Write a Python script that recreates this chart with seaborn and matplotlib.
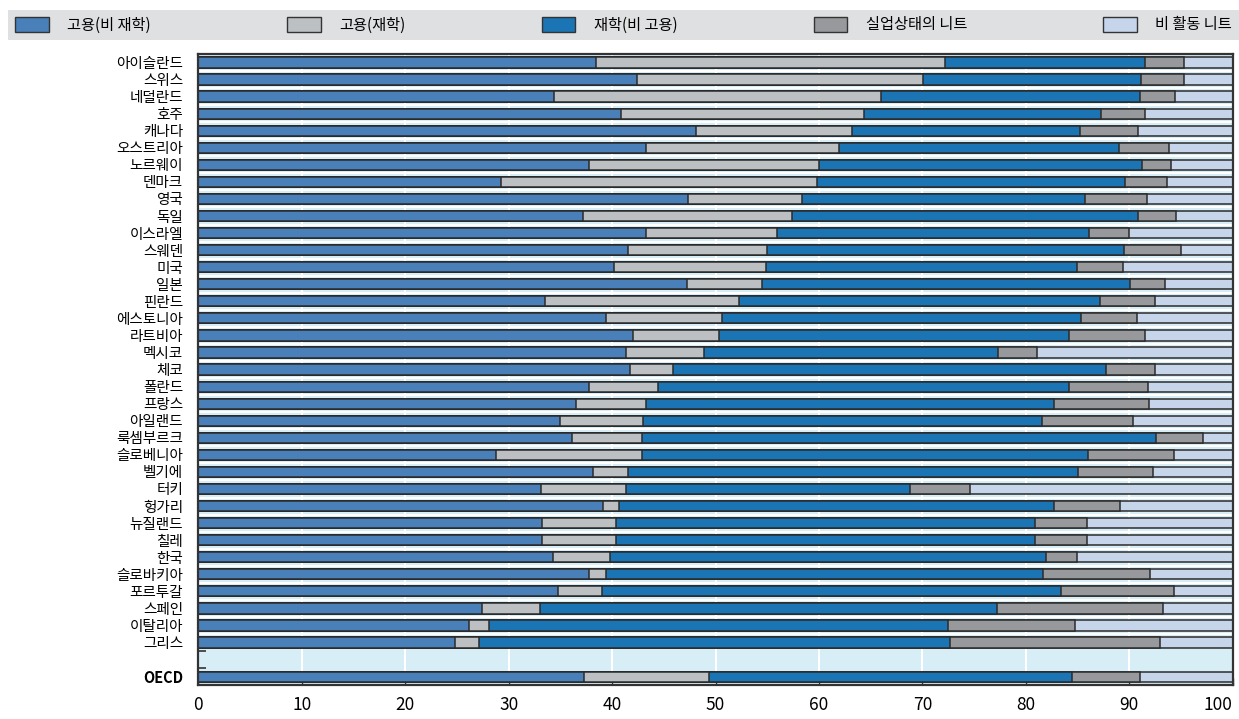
import matplotlib
matplotlib.use('Agg')
import numpy as np
import pandas as pd
import seaborn as sns
import matplotlib.pyplot as plt
from matplotlib.patches import Patch

# Countries, top to bottom (OECD average shown separately after a gap)
countries = ['아이슬란드', '스위스', '네덜란드', '호주', '캐나다', '오스트리아', '노르웨이', '덴마크',
             '영국', '독일', '이스라엘', '스웨덴', '미국', '일본', '핀란드', '에스토니아', '라트비아',
             '멕시코', '체코', '폴란드', '프랑스', '아일랜드', '룩셈부르크', '슬로베니아', '벨기에',
             '터키', '헝가리', '뉴질랜드', '칠레', '한국', '슬로바키아', '포르투갈', '스페인',
             '이탈리아', '그리스', 'OECD']

# Shares (%) of each group
emp_not_study = [38.4, 42.4, 34.4, 40.9, 48.1, 43.3, 37.8, 29.3, 47.3, 37.2, 43.3, 41.5, 40.2, 47.2,
                 33.5, 39.4, 42.0, 41.3, 41.7, 37.8, 36.5, 35.0, 36.1, 28.8, 38.2, 33.1, 39.1, 33.2,
                 33.2, 34.3, 37.8, 34.8, 27.4, 26.2, 24.8, 37.3]
emp_study = [33.8, 27.7, 31.6, 23.5, 15.1, 18.6, 22.2, 30.5, 11.1, 20.2, 12.6, 13.5, 14.7, 7.3,
             18.8, 11.2, 8.3, 7.6, 4.2, 6.6, 6.8, 8.0, 6.8, 14.1, 3.3, 8.2, 1.6, 7.2,
             7.2, 5.5, 1.6, 4.2, 5.6, 1.9, 2.3, 12.1]
study_not_emp = [19.3, 21.0, 25.0, 22.9, 22.0, 27.1, 31.2, 29.8, 27.3, 33.4, 30.2, 34.5, 30.0, 35.6,
                 34.9, 34.7, 33.9, 28.4, 41.8, 39.8, 39.4, 38.6, 49.7, 43.1, 43.5, 27.5, 42.0, 40.5,
                 40.5, 42.1, 42.3, 44.4, 44.2, 44.4, 45.6, 35.1]
neet_unemp = [3.8, 4.2, 3.4, 4.2, 5.6, 4.8, 2.8, 4.0, 6.0, 3.7, 3.9, 5.5, 4.5, 3.3,
              5.3, 5.4, 7.3, 3.8, 4.8, 7.6, 9.2, 8.8, 4.5, 8.3, 7.3, 5.8, 6.4, 5.0,
              5.0, 3.0, 10.3, 10.9, 16.1, 12.2, 20.3, 6.5]
neet_inactive = [4.7, 4.7, 5.6, 8.5, 9.2, 6.2, 6.0, 6.4, 8.3, 5.5, 10.0, 5.0, 10.6, 6.6,
                 7.5, 9.3, 8.5, 18.9, 7.5, 8.2, 8.1, 9.6, 2.9, 5.7, 7.7, 25.4, 10.9, 14.1,
                 14.1, 15.1, 8.0, 5.7, 6.7, 15.3, 7.0, 9.0]

series_names = ['고용(비 재학)', '고용(재학)', '재학(비 고용)', '실업상태의 니트', '비 활동 니트']
series_colors = ['#4a80b9', '#bcc0c3', '#1b74b3', '#97999c', '#c6d5ea']

plt.rcParams['font.family'] = ['Noto Sans CJK KR', 'DejaVu Sans']

df = pd.DataFrame({'country': countries, series_names[0]: emp_not_study, series_names[1]: emp_study,
                   series_names[2]: study_not_emp, series_names[3]: neet_unemp,
                   series_names[4]: neet_inactive})
cum = df[series_names].cumsum(axis=1)
cum['country'] = df['country']

# a blank slot separates the countries from the OECD average
order = countries[:-1] + [' '] + ['OECD']

fig, ax = plt.subplots(figsize=(12.39, 7.19), dpi=100)
fig.subplots_adjust(left=0.16, right=0.995, top=0.925, bottom=0.047)
ax.set_facecolor('#d7eef7')

# stacked bars: draw cumulative totals from the back to the front
for name, color in reversed(list(zip(series_names, series_colors))):
    sns.barplot(data=cum, x=name, y='country', order=order, orient='y', color=color,
                saturation=1, width=0.6, errorbar=None, edgecolor='#2b2b2b', linewidth=1.1, ax=ax)

ax.set_axisbelow(True)
ax.grid(axis='x', color='white', linewidth=1.5)
for i in range(len(countries) - 2):
    ax.axhline(i + 0.5, color='white', linewidth=1.5, zorder=0.6)

ax.set_xlim(0, 100)
ax.set_ylim(len(order) - 0.5, -0.5)
ax.set_xticks(range(0, 101, 10))
ax.set_xlabel('')
ax.set_ylabel('')
ax.set_yticks(np.arange(len(order)) + 0.5, minor=True)
ax.tick_params(axis='y', which='major', length=0, labelsize=10.5, pad=11)
ax.tick_params(axis='y', which='minor', direction='in', length=6, width=1.2, color='#333333')
ax.tick_params(axis='x', direction='in', length=5, width=1, color='#333333', labelsize=12.5, pad=8)
ax.get_xticklabels()[-1].set_horizontalalignment('right')
for lab in ax.get_yticklabels():
    if lab.get_text() == 'OECD':
        lab.set_fontweight('bold')
for s in ax.spines.values():
    s.set_color('#333333')
    s.set_linewidth(1.6)

handles = [Patch(facecolor=c, edgecolor='#333333', linewidth=1) for c in series_colors]
leg = fig.legend(handles, series_names, loc='lower left', ncol=5, mode='expand',
                 bbox_to_anchor=(0.0065, 0.944, 0.9935, 0.05), borderaxespad=0,
                 fontsize=11, frameon=True, fancybox=False, handlelength=2.2, handleheight=1.1,
                 handletextpad=1.2, borderpad=0.45)
leg.get_frame().set_facecolor('#dfe0e2')
leg.get_frame().set_edgecolor('none')
leg.get_frame().set_alpha(1)

plt.savefig('out.png', dpi=100)
